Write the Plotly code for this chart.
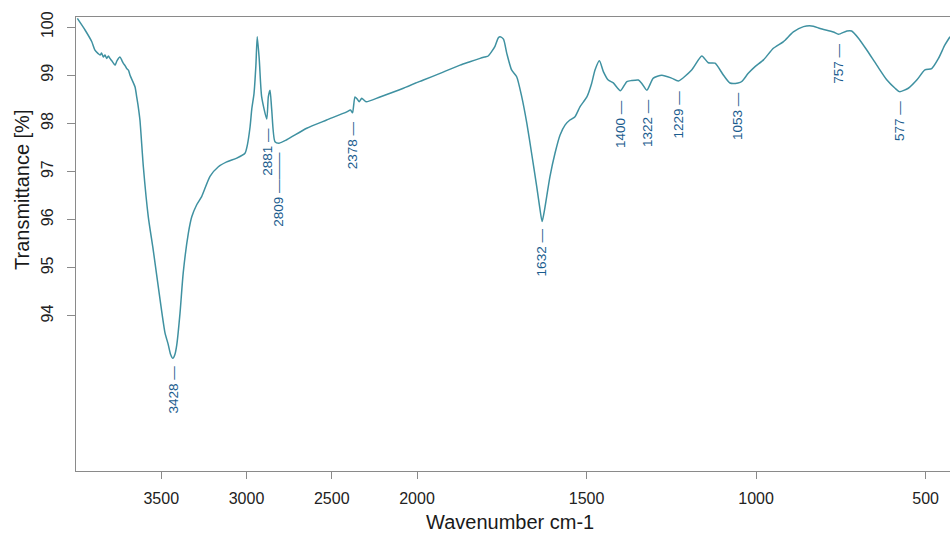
import numpy as np
import plotly.graph_objects as go

# ---- data: FTIR spectrum (wavenumber cm-1, transmittance %) ----
wn_high = [3992, 3947, 3908, 3889, 3870, 3859, 3850, 3840, 3830, 3820, 3810, 3801,
           3790, 3771, 3760, 3742, 3730, 3723, 3712, 3703, 3692, 3683, 3654, 3644,
           3635, 3625, 3605, 3576, 3547, 3507, 3478, 3460, 3445, 3432, 3420, 3409, 3390, 3371,
           3341, 3321, 3292, 3263, 3214, 3165, 3116, 3057, 3009, 2995, 2979, 2969,
           2956, 2945, 2937, 2925, 2911, 2881, 2872, 2862, 2852, 2833, 2809, 2764,
           2647, 2530, 2412, 2390, 2378, 2364, 2350, 2339, 2324, 2299, 2217, 2080, 2000]
tr_high = [100.18, 99.94, 99.70, 99.52, 99.45, 99.42, 99.46, 99.38, 99.42, 99.35, 99.40, 99.35,
           99.30, 99.21, 99.30, 99.38, 99.30, 99.25, 99.20, 99.14, 99.10, 99.00, 98.76, 98.55,
           98.35, 98.07, 97.10, 96.06, 95.37, 94.34, 93.65, 93.42, 93.20, 93.12, 93.20, 93.40, 94.06, 94.90,
           95.72, 96.06, 96.31, 96.48, 96.90, 97.10, 97.20, 97.28, 97.38, 97.55, 97.93, 98.30,
           98.62, 99.20, 99.80, 99.32, 98.55, 98.09, 98.55, 98.69, 98.28, 97.62, 97.59, 97.66,
           97.90, 98.07, 98.24, 98.28, 98.22, 98.55, 98.50, 98.45, 98.52, 98.45, 98.55, 98.73, 98.85]

wn_low = [2000, 1981, 1932, 1873, 1844, 1814, 1800, 1790, 1780, 1770, 1760, 1755, 1745,
          1735, 1721, 1706, 1691, 1676, 1662, 1647, 1638, 1631, 1624, 1608, 1593, 1578,
          1563, 1549, 1534, 1519, 1499, 1485, 1475, 1462, 1450, 1436, 1421, 1400, 1381,
          1367, 1347, 1337, 1322, 1303, 1278, 1249, 1229, 1190, 1160, 1141, 1121, 1096,
          1077, 1053, 1042, 1023, 1003, 978, 949, 919, 890, 860, 831, 811, 772, 757, 732,
          718, 698, 673, 644, 614, 590, 577, 551, 526, 502, 482, 462, 443, 428]
tr_low = [98.85, 98.90, 99.04, 99.21, 99.28, 99.35, 99.38, 99.40, 99.49, 99.60, 99.78, 99.80, 99.75,
          99.45, 99.11, 98.97, 98.55, 98.00, 97.38, 96.69, 96.25, 95.96, 96.20, 96.89, 97.38, 97.76,
          97.97, 98.07, 98.14, 98.35, 98.55, 98.83, 99.11, 99.30, 99.07, 98.90, 98.84, 98.68, 98.87,
          98.89, 98.90, 98.83, 98.69, 98.94, 99.00, 98.94, 98.88, 99.11, 99.40, 99.26, 99.25, 99.00,
          98.84, 98.84, 98.87, 99.04, 99.18, 99.32, 99.56, 99.70, 99.90, 100.01, 100.02, 99.97, 99.90, 99.85, 99.92,
          99.92, 99.77, 99.52, 99.21, 98.90, 98.73, 98.66, 98.73, 98.90, 99.11, 99.14, 99.35, 99.63, 99.80]

peaks_high = [3428, 2881, 2809, 2378]
peaks_low = [1632, 1400, 1322, 1229, 1053, 757, 577]

y_ticks = [94, 95, 96, 97, 98, 99, 100]
x_ticks_high = [3500, 3000, 2500, 2000]
x_ticks_low = [1500, 1000, 500]

LINE = "#3f91a1"
LABEL = "#1a5c8e"
AXIS = "#8a8a8a"
FONT = "Liberation Sans, Arial, sans-serif"

fig = go.Figure()
fig.add_trace(go.Scatter(x=wn_high, y=tr_high, mode="lines", xaxis="x", yaxis="y",
                         line=dict(color=LINE, width=1.5, shape="spline", smoothing=0.6),
                         hoverinfo="x+y"))
fig.add_trace(go.Scatter(x=wn_low, y=tr_low, mode="lines", xaxis="x2", yaxis="y",
                         line=dict(color=LINE, width=1.5, shape="spline", smoothing=0.6),
                         hoverinfo="x+y"))

def peak_label(wn, wns, trs, xref):
    val = float(np.interp(-wn, -np.array(wns), np.array(trs)))
    dash = "———" if wn == 2809 else "—"
    return dict(x=wn, y=val, xref=xref, yref="y", text=f"{wn} {dash}",
                textangle=-90, showarrow=False, yanchor="top", xanchor="center",
                yshift=-7, font=dict(family=FONT, size=13.5, color=LABEL))

annotations = [peak_label(w, wn_high, tr_high, "x") for w in peaks_high]
annotations += [peak_label(w, wn_low, tr_low, "x2") for w in peaks_low]

annotations.append(dict(text="Transmittance [%]", xref="paper", yref="paper",
                        x=-0.0618, y=0.619, textangle=-90, showarrow=False,
                        xanchor="center", yanchor="middle",
                        font=dict(family=FONT, size=20, color="#1a1a1a")))
annotations.append(dict(text="Wavenumber cm-1", xref="paper", yref="paper",
                        x=0.4966, y=-0.112, showarrow=False,
                        xanchor="center", yanchor="middle",
                        font=dict(family=FONT, size=20, color="#1a1a1a")))

split = (417 - 76) / 874

axis_common = dict(showline=True, linecolor=AXIS, linewidth=1, mirror=True,
                   ticks="outside", ticklen=7, tickcolor=AXIS, showgrid=False,
                   zeroline=False, tickfont=dict(family=FONT, size=16, color="#222222"),
                   ticklabelstandoff=6, automargin=False)

fig.update_layout(
    width=950, height=537, autosize=False,
    margin=dict(l=76, r=0, t=17, b=66),
    paper_bgcolor="white", plot_bgcolor="white",
    showlegend=False,
    xaxis=dict(range=[4000, 2000], domain=[0, split], tickvals=x_ticks_high,
               ticktext=[str(t) for t in x_ticks_high], anchor="y", **axis_common),
    xaxis2=dict(range=[2000, 428], domain=[split, 1], tickvals=x_ticks_low,
                ticktext=[str(t) for t in x_ticks_low], anchor="y", **axis_common),
    yaxis=dict(range=[90.78, 100.21], tickvals=y_ticks, ticktext=[str(t) for t in y_ticks],
               showline=True, linecolor=AXIS, linewidth=1, ticks="outside", ticklen=8,
               tickcolor=AXIS, showgrid=False, zeroline=False, tickangle=-90, automargin=False,
               tickfont=dict(family=FONT, size=16, color="#222222"), ticklabelstandoff=8),
    annotations=annotations,
)

post = ("document.body.style.margin='0';document.body.style.overflow='hidden';"
        "Plotly.relayout('{plot_id}', {width: 950, height: 537});")
fig.write_html("out.html", config={"responsive": False, "displayModeBar": False},
               post_script=post)
